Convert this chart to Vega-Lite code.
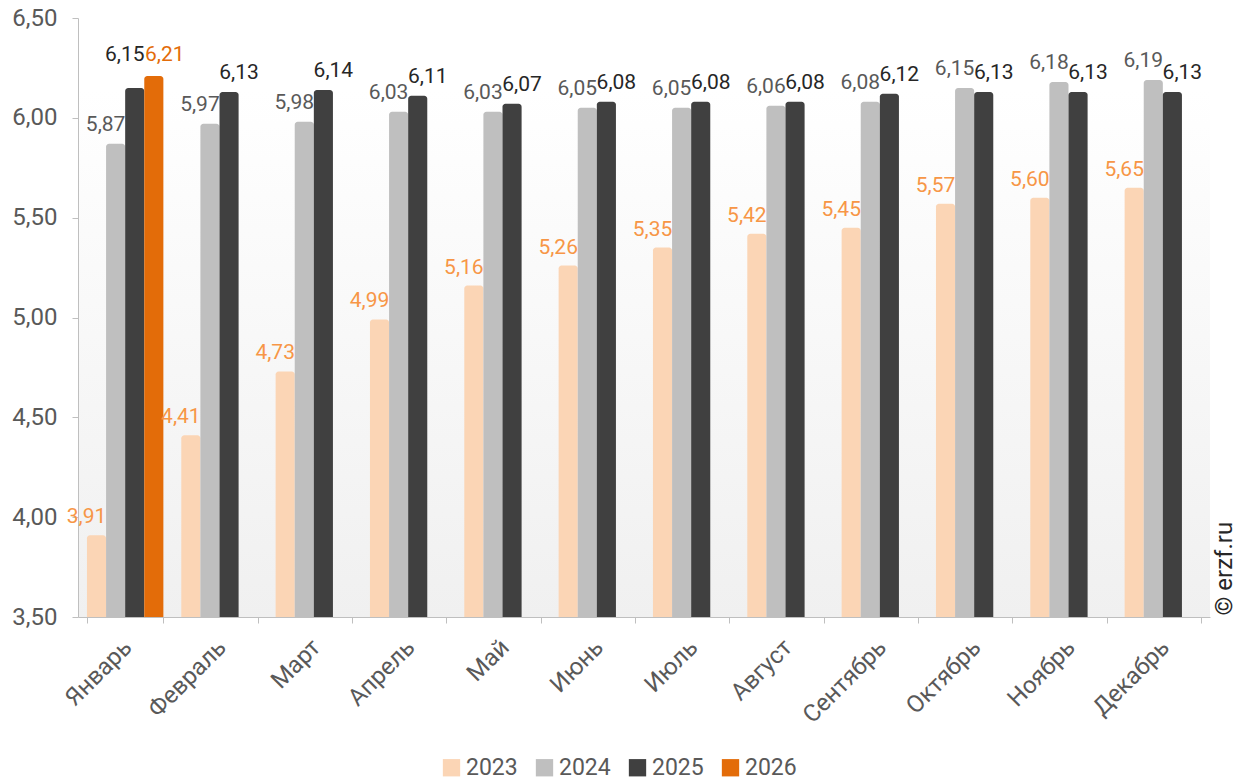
{
  "$schema": "https://vega.github.io/schema/vega-lite/v6.json",
  "width": 1132,
  "height": 599,
  "autosize": {"type": "none"},
  "padding": {"left": 78, "top": 18, "right": 44, "bottom": 163},
  "background": "#ffffff",
  "config": {
    "font": "Roboto",
    "locale": {"number": {"decimal": ",", "thousands": "\u00a0", "grouping": [3], "currency": ["", " ₽"]}},
    "view": {
      "stroke": null,
      "fill": {"gradient": "linear", "x1": 0, "y1": 0, "x2": 0, "y2": 1,
        "stops": [{"offset": 0, "color": "#ffffff"}, {"offset": 0.12, "color": "#ffffff"}, {"offset": 1, "color": "#f0f0f0"}]}
    },
    "axis": {"labelFont": "Roboto", "titleFont": "Roboto"},
    "legend": {"labelFont": "Roboto"}
  },
  "data": {"values": [
    {"month": "Январь", "year": "2023", "value": 3.91},
    {"month": "Февраль", "year": "2023", "value": 4.41},
    {"month": "Март", "year": "2023", "value": 4.73},
    {"month": "Апрель", "year": "2023", "value": 4.99},
    {"month": "Май", "year": "2023", "value": 5.16},
    {"month": "Июнь", "year": "2023", "value": 5.26},
    {"month": "Июль", "year": "2023", "value": 5.35},
    {"month": "Август", "year": "2023", "value": 5.42},
    {"month": "Сентябрь", "year": "2023", "value": 5.45},
    {"month": "Октябрь", "year": "2023", "value": 5.57},
    {"month": "Ноябрь", "year": "2023", "value": 5.60},
    {"month": "Декабрь", "year": "2023", "value": 5.65},
    {"month": "Январь", "year": "2024", "value": 5.87},
    {"month": "Февраль", "year": "2024", "value": 5.97},
    {"month": "Март", "year": "2024", "value": 5.98},
    {"month": "Апрель", "year": "2024", "value": 6.03},
    {"month": "Май", "year": "2024", "value": 6.03},
    {"month": "Июнь", "year": "2024", "value": 6.05},
    {"month": "Июль", "year": "2024", "value": 6.05},
    {"month": "Август", "year": "2024", "value": 6.06},
    {"month": "Сентябрь", "year": "2024", "value": 6.08},
    {"month": "Октябрь", "year": "2024", "value": 6.15},
    {"month": "Ноябрь", "year": "2024", "value": 6.18},
    {"month": "Декабрь", "year": "2024", "value": 6.19},
    {"month": "Январь", "year": "2025", "value": 6.15},
    {"month": "Февраль", "year": "2025", "value": 6.13},
    {"month": "Март", "year": "2025", "value": 6.14},
    {"month": "Апрель", "year": "2025", "value": 6.11},
    {"month": "Май", "year": "2025", "value": 6.07},
    {"month": "Июнь", "year": "2025", "value": 6.08},
    {"month": "Июль", "year": "2025", "value": 6.08},
    {"month": "Август", "year": "2025", "value": 6.08},
    {"month": "Сентябрь", "year": "2025", "value": 6.12},
    {"month": "Октябрь", "year": "2025", "value": 6.13},
    {"month": "Ноябрь", "year": "2025", "value": 6.13},
    {"month": "Декабрь", "year": "2025", "value": 6.13},
    {"month": "Январь", "year": "2026", "value": 6.21}
  ]},
  "encoding": {
    "x": {
      "field": "month", "type": "nominal",
      "sort": ["Январь", "Февраль", "Март", "Апрель", "Май", "Июнь", "Июль", "Август", "Сентябрь", "Октябрь", "Ноябрь", "Декабрь"],
      "scale": {"paddingInner": 0.19, "paddingOuter": 0.095},
      "axis": {"title": null, "labelAngle": -45, "labelFontSize": 24, "labelColor": "#595959", "labelOffset": -6,
        "domainColor": "#bfbfbf", "tickColor": "#bfbfbf", "tickSize": 6, "tickBand": "extent", "labelPadding": 12}
    },
    "xOffset": {"field": "year", "type": "nominal", "sort": ["2023", "2024", "2025", "2026"], "scale": {"paddingInner": 0, "paddingOuter": 0}},
    "y": {"field": "value", "type": "quantitative", "scale": {"domain": [3.5, 6.5], "zero": false, "nice": false}}
  },
  "layer": [
    {
      "mark": {"type": "bar", "cornerRadiusTopLeft": 3, "cornerRadiusTopRight": 3},
      "encoding": {
        "y": {"field": "value", "type": "quantitative",
          "axis": {"title": null, "values": [3.5, 4, 4.5, 5, 5.5, 6, 6.5], "format": ".2f", "grid": false,
            "labelFontSize": 24, "labelColor": "#595959", "domainColor": "#bfbfbf", "tickColor": "#bfbfbf", "tickSize": 6, "labelPadding": 15}},
        "y2": {"datum": 3.5},
        "color": {"field": "year", "type": "nominal",
          "scale": {"domain": ["2023", "2024", "2025", "2026"], "range": ["#fbd5b5", "#bfbfbf", "#404040", "#e36c09"]},
          "legend": {"title": null, "orient": "none", "legendX": 362, "legendY": 738, "direction": "horizontal",
            "symbolType": "square", "symbolSize": 300, "symbolStrokeWidth": 0, "labelFontSize": 23, "labelColor": "#595959",
            "columnPadding": 15, "labelOffset": 3}}
      }
    },
    {
      "transform": [{"filter": "datum.year === '2023'"}],
      "mark": {"type": "text", "fontSize": 21, "color": "#f79646", "baseline": "alphabetic", "dy": -12, "dx": -10},
      "encoding": {"text": {"field": "value", "type": "quantitative", "format": ".2f"},
        "y": {"field": "value", "type": "quantitative",
          "axis": {"orient": "right", "title": "© erzf.ru", "labels": false, "ticks": false, "domain": false, "grid": false,
            "titleAngle": 270, "titleX": 14, "titleY": 597, "titleAlign": "left", "titleBaseline": "middle",
            "titleFontSize": 24, "titleFontWeight": "normal", "titleColor": "#262626", "titleFont": "Roboto"}}}
    },
    {
      "transform": [{"filter": "datum.year === '2024'"}],
      "mark": {"type": "text", "fontSize": 21, "color": "#595959", "baseline": "alphabetic", "dy": -13, "dx": -10},
      "encoding": {"text": {"field": "value", "type": "quantitative", "format": ".2f"},
        "y": {"field": "value", "type": "quantitative", "axis": null}}
    },
    {
      "transform": [{"filter": "datum.year === '2025' && datum.month !== 'Январь'"}],
      "mark": {"type": "text", "fontSize": 21, "color": "#262626", "baseline": "alphabetic", "dy": -13, "dx": 10},
      "encoding": {"text": {"field": "value", "type": "quantitative", "format": ".2f"},
        "y": {"field": "value", "type": "quantitative", "axis": null}}
    },
    {
      "transform": [{"filter": "datum.year === '2025' && datum.month === 'Январь'"}],
      "mark": {"type": "text", "fontSize": 21, "color": "#262626", "baseline": "alphabetic", "dy": -27, "dx": -10},
      "encoding": {"text": {"field": "value", "type": "quantitative", "format": ".2f"},
        "y": {"field": "value", "type": "quantitative", "axis": null}}
    },
    {
      "transform": [{"filter": "datum.year === '2026'"}],
      "mark": {"type": "text", "fontSize": 21, "color": "#e36c09", "baseline": "alphabetic", "dy": -15, "dx": 11},
      "encoding": {"text": {"field": "value", "type": "quantitative", "format": ".2f"},
        "y": {"field": "value", "type": "quantitative", "axis": null}}
    }
  ],
  "resolve": {"axis": {"y": "independent"}}
}
